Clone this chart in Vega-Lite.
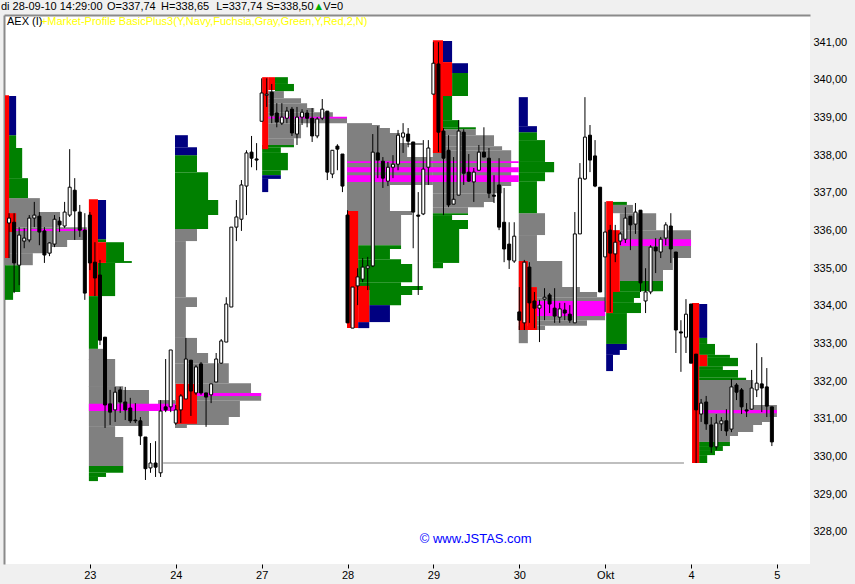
{
"$schema": "https://vega.github.io/schema/vega-lite/v6.json",
"autosize": "none",
"width": 806,
"height": 549,
"padding": {"left": 4, "top": 15, "right": 45, "bottom": 20},
"background": "#f0f0f0",
"config": {"view": {"fill": "white", "stroke": null}, "font": "Liberation Sans"},
"datasets": {
"profile": [
{"a":1.0,"b":7.1,"lo":336.49,"hi":336.86,"z":"va"},
{"a":1.0,"b":11.1,"lo":336.09,"hi":336.49,"z":"va"},
{"a":1.0,"b":16.4,"lo":335.75,"hi":336.09,"z":"va"},
{"a":1.0,"b":12.5,"lo":335.56,"hi":335.75,"z":"va"},
{"a":1.0,"b":9.5,"lo":335.40,"hi":335.56,"z":"va"},
{"a":0.2,"b":5.7,"lo":335.08,"hi":335.40,"z":"va"},
{"a":1.0,"b":2.4,"lo":338.19,"hi":338.53,"z":"out"},
{"a":1.0,"b":3.6,"lo":337.39,"hi":338.19,"z":"out"},
{"a":1.0,"b":4.75,"lo":336.86,"hi":337.39,"z":"out"},
{"a":0.2,"b":3.2,"lo":334.37,"hi":335.08,"z":"out"},
{"a":0.2,"b":1.8,"lo":334.16,"hi":334.37,"z":"out"},
{"a":1.0,"b":2.4,"lo":338.53,"hi":339.57,"z":"ext"},
{"a":0.2,"b":1.0,"lo":335.27,"hi":339.59,"z":"ib"},
{"a":1.0,"b":2.4,"lo":335.96,"hi":336.46,"z":"ib"},

{"a":16.8,"b":20.2,"lo":332.56,"hi":332.86,"z":"va"},
{"a":16.8,"b":22.0,"lo":331.85,"hi":332.59,"z":"va"},
{"a":16.8,"b":23.6,"lo":331.77,"hi":331.87,"z":"va"},
{"a":16.8,"b":28.7,"lo":330.81,"hi":331.77,"z":"va"},
{"a":16.8,"b":22.0,"lo":330.52,"hi":330.81,"z":"va"},
{"a":16.8,"b":23.6,"lo":329.75,"hi":330.52,"z":"va"},
{"a":30.5,"b":33.9,"lo":331.21,"hi":331.50,"z":"va"},
{"a":18.6,"b":20.2,"lo":335.69,"hi":335.77,"z":"out"},
{"a":20.2,"b":23.75,"lo":335.16,"hi":335.69,"z":"out"},
{"a":20.2,"b":25.3,"lo":335.14,"hi":335.19,"z":"out"},
{"a":18.6,"b":22.0,"lo":334.26,"hi":335.14,"z":"out"},
{"a":16.8,"b":18.6,"lo":332.86,"hi":334.26,"z":"out"},
{"a":16.8,"b":23.6,"lo":329.57,"hi":329.75,"z":"out"},
{"a":16.8,"b":20.2,"lo":329.46,"hi":329.57,"z":"out"},
{"a":16.8,"b":18.6,"lo":329.35,"hi":329.46,"z":"out"},
{"a":18.6,"b":20.2,"lo":335.77,"hi":336.81,"z":"ext"},
{"a":16.8,"b":18.6,"lo":334.26,"hi":336.83,"z":"ib"},
{"a":18.6,"b":20.2,"lo":335.14,"hi":335.69,"z":"ib"},

{"a":33.85,"b":38.2,"lo":335.72,"hi":336.04,"z":"va"},
{"a":33.85,"b":36.0,"lo":334.23,"hi":335.72,"z":"va"},
{"a":33.85,"b":38.2,"lo":333.97,"hi":334.23,"z":"va"},
{"a":33.85,"b":36.0,"lo":333.15,"hi":333.97,"z":"va"},
{"a":33.85,"b":38.2,"lo":332.75,"hi":333.15,"z":"va"},
{"a":33.85,"b":40.4,"lo":332.48,"hi":332.75,"z":"va"},
{"a":33.85,"b":44.5,"lo":331.95,"hi":332.48,"z":"va"},
{"a":33.85,"b":48.9,"lo":331.69,"hi":331.95,"z":"va"},
{"a":33.85,"b":50.9,"lo":331.48,"hi":331.69,"z":"va"},
{"a":33.85,"b":46.7,"lo":331.05,"hi":331.48,"z":"va"},
{"a":33.85,"b":44.5,"lo":330.84,"hi":331.05,"z":"va"},
{"a":33.85,"b":36.2,"lo":330.76,"hi":330.84,"z":"va"},
{"a":33.85,"b":38.2,"lo":337.55,"hi":338.00,"z":"out"},
{"a":33.85,"b":40.4,"lo":336.81,"hi":337.55,"z":"out"},
{"a":33.85,"b":42.4,"lo":336.41,"hi":336.81,"z":"out"},
{"a":33.85,"b":40.4,"lo":336.04,"hi":336.41,"z":"out"},
{"a":33.85,"b":36.4,"lo":338.21,"hi":338.53,"z":"ext"},
{"a":33.85,"b":38.2,"lo":338.00,"hi":338.21,"z":"ext"},
{"a":34.05,"b":38.2,"lo":330.87,"hi":331.93,"z":"ib"},

{"a":52.3,"b":55.4,"lo":339.51,"hi":339.70,"z":"va"},
{"a":52.3,"b":58.8,"lo":339.38,"hi":339.51,"z":"va"},
{"a":52.3,"b":60.0,"lo":339.25,"hi":339.38,"z":"va"},
{"a":52.3,"b":61.4,"lo":339.14,"hi":339.25,"z":"va"},
{"a":52.3,"b":65.1,"lo":339.01,"hi":339.14,"z":"va"},
{"a":52.3,"b":67.9,"lo":338.85,"hi":339.01,"z":"va"},
{"a":52.3,"b":58.8,"lo":338.45,"hi":338.85,"z":"va"},
{"a":52.3,"b":57.4,"lo":338.27,"hi":338.45,"z":"va"},
{"a":53.65,"b":56.2,"lo":339.89,"hi":340.07,"z":"out"},
{"a":53.65,"b":57.4,"lo":339.70,"hi":339.89,"z":"out"},
{"a":51.1,"b":57.4,"lo":338.21,"hi":338.27,"z":"out"},
{"a":51.1,"b":54.8,"lo":338.06,"hi":338.21,"z":"out"},
{"a":51.1,"b":56.2,"lo":337.60,"hi":338.06,"z":"out"},
{"a":51.1,"b":54.8,"lo":337.47,"hi":337.60,"z":"out"},
{"a":51.1,"b":54.8,"lo":337.37,"hi":337.47,"z":"ext"},
{"a":51.1,"b":52.3,"lo":337.02,"hi":337.37,"z":"ext"},
{"a":51.1,"b":52.3,"lo":338.16,"hi":340.07,"z":"ib"},
{"a":52.3,"b":53.65,"lo":339.73,"hi":340.07,"z":"ib"},

{"a":67.9,"b":72.85,"lo":338.80,"hi":338.85,"z":"va"},
{"a":67.9,"b":74.4,"lo":338.72,"hi":338.80,"z":"va"},
{"a":67.9,"b":76.4,"lo":338.59,"hi":338.72,"z":"va"},
{"a":67.9,"b":78.4,"lo":338.32,"hi":338.59,"z":"va"},
{"a":67.9,"b":82.9,"lo":338.27,"hi":338.32,"z":"va"},
{"a":67.9,"b":79.8,"lo":337.95,"hi":338.27,"z":"va"},
{"a":67.9,"b":84.9,"lo":337.21,"hi":337.95,"z":"va"},
{"a":67.9,"b":76.4,"lo":336.52,"hi":337.21,"z":"va"},
{"a":67.9,"b":80.8,"lo":336.41,"hi":336.52,"z":"va"},
{"a":67.9,"b":78.6,"lo":335.61,"hi":336.41,"z":"va"},
{"a":70.1,"b":78.6,"lo":335.51,"hi":335.61,"z":"out"},
{"a":70.1,"b":76.4,"lo":335.24,"hi":335.51,"z":"out"},
{"a":70.1,"b":78.6,"lo":335.11,"hi":335.24,"z":"out"},
{"a":70.1,"b":80.8,"lo":334.63,"hi":335.11,"z":"out"},
{"a":70.1,"b":78.6,"lo":334.53,"hi":334.63,"z":"out"},
{"a":70.1,"b":82.9,"lo":334.42,"hi":334.53,"z":"out"},
{"a":72.3,"b":80.8,"lo":334.29,"hi":334.42,"z":"out"},
{"a":72.3,"b":78.6,"lo":334.02,"hi":334.29,"z":"out"},
{"a":72.3,"b":76.4,"lo":333.57,"hi":334.02,"z":"ext"},
{"a":70.1,"b":72.3,"lo":333.41,"hi":333.57,"z":"ext"},
{"a":67.9,"b":70.1,"lo":333.41,"hi":336.52,"z":"ib"},
{"a":70.1,"b":72.3,"lo":333.57,"hi":334.53,"z":"ib"},

{"a":86.9,"b":93.4,"lo":338.53,"hi":338.69,"z":"va"},
{"a":86.9,"b":97.0,"lo":338.24,"hi":338.53,"z":"va"},
{"a":86.9,"b":98.6,"lo":338.13,"hi":338.24,"z":"va"},
{"a":84.9,"b":100.4,"lo":337.18,"hi":338.13,"z":"va"},
{"a":84.9,"b":98.6,"lo":336.99,"hi":337.18,"z":"va"},
{"a":84.9,"b":97.0,"lo":336.76,"hi":336.99,"z":"va"},
{"a":84.9,"b":95.0,"lo":336.62,"hi":336.76,"z":"va"},
{"a":84.9,"b":91.85,"lo":336.46,"hi":336.62,"z":"va"},
{"a":88.7,"b":91.85,"lo":339.57,"hi":340.18,"z":"out"},
{"a":86.9,"b":88.7,"lo":338.93,"hi":339.57,"z":"out"},
{"a":86.9,"b":90.1,"lo":338.74,"hi":338.93,"z":"out"},
{"a":86.9,"b":93.4,"lo":338.69,"hi":338.74,"z":"out"},
{"a":84.9,"b":91.85,"lo":336.41,"hi":336.46,"z":"out"},
{"a":84.9,"b":88.7,"lo":336.28,"hi":336.41,"z":"out"},
{"a":84.9,"b":91.85,"lo":336.04,"hi":336.28,"z":"out"},
{"a":84.9,"b":90.1,"lo":335.14,"hi":336.04,"z":"out"},
{"a":84.9,"b":86.9,"lo":335.00,"hi":335.14,"z":"out"},
{"a":86.9,"b":88.7,"lo":340.47,"hi":341.03,"z":"ext"},
{"a":88.7,"b":91.85,"lo":340.18,"hi":340.44,"z":"ext"},
{"a":84.9,"b":86.9,"lo":338.06,"hi":341.05,"z":"ib"},
{"a":86.9,"b":88.7,"lo":339.57,"hi":340.47,"z":"ib"},

{"a":101.9,"b":107.1,"lo":335.88,"hi":336.46,"z":"va"},
{"a":101.9,"b":105.5,"lo":335.19,"hi":335.88,"z":"va"},
{"a":101.9,"b":110.5,"lo":334.50,"hi":335.19,"z":"va"},
{"a":105.5,"b":114.0,"lo":334.37,"hi":334.50,"z":"va"},
{"a":105.5,"b":117.4,"lo":334.23,"hi":334.37,"z":"va"},
{"a":105.5,"b":119.0,"lo":333.62,"hi":334.23,"z":"va"},
{"a":105.5,"b":115.4,"lo":333.47,"hi":333.62,"z":"va"},
{"a":101.9,"b":107.1,"lo":333.36,"hi":333.47,"z":"va"},
{"a":101.9,"b":103.7,"lo":333.01,"hi":333.36,"z":"va"},
{"a":101.9,"b":105.5,"lo":338.40,"hi":338.61,"z":"out"},
{"a":101.9,"b":107.1,"lo":337.82,"hi":338.40,"z":"out"},
{"a":101.9,"b":108.9,"lo":337.55,"hi":337.82,"z":"out"},
{"a":101.9,"b":107.1,"lo":337.31,"hi":337.55,"z":"out"},
{"a":101.9,"b":105.5,"lo":336.46,"hi":337.31,"z":"out"},
{"a":101.9,"b":103.7,"lo":338.77,"hi":339.54,"z":"ext"},
{"a":101.9,"b":105.5,"lo":338.61,"hi":338.77,"z":"ext"},
{"a":101.9,"b":103.7,"lo":333.36,"hi":335.19,"z":"ib"},
{"a":103.7,"b":105.5,"lo":333.36,"hi":334.50,"z":"ib"},

{"a":120.55,"b":124.5,"lo":336.46,"hi":336.68,"z":"va"},
{"a":121.9,"b":129.1,"lo":336.01,"hi":336.46,"z":"va"},
{"a":121.9,"b":136.0,"lo":335.27,"hi":336.01,"z":"va"},
{"a":121.9,"b":132.4,"lo":334.95,"hi":335.27,"z":"va"},
{"a":121.9,"b":130.45,"lo":334.66,"hi":334.95,"z":"va"},
{"a":120.55,"b":123.3,"lo":336.68,"hi":336.76,"z":"out"},
{"a":121.9,"b":130.45,"lo":334.39,"hi":334.66,"z":"out"},
{"a":120.55,"b":125.9,"lo":334.21,"hi":334.39,"z":"out"},
{"a":120.55,"b":124.7,"lo":334.08,"hi":334.21,"z":"out"},
{"a":120.55,"b":126.1,"lo":333.81,"hi":334.08,"z":"out"},
{"a":119.2,"b":123.3,"lo":332.99,"hi":333.81,"z":"out"},
{"a":119.2,"b":123.3,"lo":332.83,"hi":332.99,"z":"ext"},
{"a":119.2,"b":121.9,"lo":332.70,"hi":332.83,"z":"ext"},
{"a":119.2,"b":120.55,"lo":332.27,"hi":332.70,"z":"ext"},
{"a":119.2,"b":120.55,"lo":333.81,"hi":336.78,"z":"ib"},
{"a":120.55,"b":121.9,"lo":334.37,"hi":336.01,"z":"ib"},

{"a":137.6,"b":148.3,"lo":331.37,"hi":332.03,"z":"va"},
{"a":137.6,"b":153.0,"lo":331.05,"hi":331.37,"z":"va"},
{"a":137.6,"b":151.6,"lo":330.92,"hi":331.05,"z":"va"},
{"a":137.6,"b":150.05,"lo":330.84,"hi":330.92,"z":"va"},
{"a":137.6,"b":148.3,"lo":330.65,"hi":330.84,"z":"va"},
{"a":137.6,"b":145.3,"lo":330.55,"hi":330.65,"z":"va"},
{"a":137.6,"b":143.7,"lo":330.39,"hi":330.55,"z":"va"},
{"a":137.6,"b":139.2,"lo":332.99,"hi":333.15,"z":"out"},
{"a":137.6,"b":140.75,"lo":332.70,"hi":332.99,"z":"out"},
{"a":139.2,"b":143.7,"lo":332.62,"hi":332.70,"z":"out"},
{"a":139.2,"b":145.3,"lo":332.40,"hi":332.62,"z":"out"},
{"a":137.6,"b":142.3,"lo":332.30,"hi":332.40,"z":"out"},
{"a":137.6,"b":145.3,"lo":332.09,"hi":332.30,"z":"out"},
{"a":137.6,"b":146.9,"lo":332.03,"hi":332.09,"z":"out"},
{"a":137.6,"b":143.7,"lo":330.28,"hi":330.39,"z":"out"},
{"a":137.6,"b":142.3,"lo":330.15,"hi":330.28,"z":"out"},
{"a":137.6,"b":140.75,"lo":330.04,"hi":330.15,"z":"out"},
{"a":137.6,"b":139.2,"lo":329.83,"hi":330.04,"z":"out"},
{"a":137.6,"b":139.2,"lo":333.15,"hi":334.05,"z":"ext"},
{"a":136.2,"b":137.6,"lo":329.83,"hi":334.08,"z":"ib"},
{"a":137.6,"b":139.2,"lo":332.40,"hi":332.70,"z":"ib"},

{"a":2.2,"b":16.4,"lo":335.99,"hi":336.04,"z":"poc"},
{"a":16.8,"b":33.9,"lo":331.21,"hi":331.40,"z":"poc"},
{"a":38.2,"b":50.9,"lo":331.61,"hi":331.69,"z":"poc"},
{"a":52.3,"b":67.9,"lo":338.97,"hi":339.02,"z":"poc"},
{"a":67.9,"b":101.9,"lo":337.79,"hi":337.84,"z":"poc"},
{"a":67.9,"b":101.9,"lo":337.55,"hi":337.68,"z":"poc"},
{"a":67.9,"b":101.9,"lo":337.29,"hi":337.47,"z":"poc"},
{"a":105.5,"b":119.0,"lo":333.73,"hi":334.13,"z":"poc"},
{"a":121.9,"b":136.0,"lo":335.59,"hi":335.77,"z":"poc"},
{"a":137.6,"b":153.0,"lo":331.15,"hi":331.24,"z":"poc"}
],
"candles": [
{"t":1,"o":336.20,"h":336.46,"l":335.27,"c":336.33},
{"t":2,"o":336.22,"h":336.46,"l":334.34,"c":335.14},
{"t":3,"o":335.08,"h":336.09,"l":334.55,"c":335.88},
{"t":4,"o":335.72,"h":336.07,"l":335.53,"c":335.80},
{"t":5,"o":335.75,"h":336.41,"l":335.69,"c":336.33},
{"t":6,"o":336.33,"h":336.76,"l":336.09,"c":336.41},
{"t":7,"o":336.38,"h":336.49,"l":335.61,"c":335.96},
{"t":8,"o":335.99,"h":336.09,"l":335.14,"c":335.35},
{"t":9,"o":335.40,"h":335.69,"l":335.32,"c":335.67},
{"t":10,"o":335.64,"h":336.41,"l":335.56,"c":336.30},
{"t":11,"o":336.25,"h":336.36,"l":335.96,"c":336.15},
{"t":12,"o":336.12,"h":336.76,"l":336.07,"c":336.49},
{"t":13,"o":336.41,"h":338.16,"l":336.36,"c":337.15},
{"t":14,"o":337.07,"h":337.39,"l":335.75,"c":336.52},
{"t":15,"o":336.49,"h":336.68,"l":335.83,"c":336.01},
{"t":16,"o":336.01,"h":336.46,"l":334.16,"c":334.34},
{"t":17,"o":336.41,"h":336.49,"l":334.95,"c":335.14},
{"t":18,"o":335.16,"h":335.69,"l":334.26,"c":334.74},
{"t":19,"o":334.82,"h":335.22,"l":332.96,"c":333.09},
{"t":20,"o":333.17,"h":333.17,"l":330.76,"c":331.37},
{"t":21,"o":331.40,"h":331.77,"l":330.84,"c":331.18},
{"t":22,"o":331.24,"h":331.85,"l":330.92,"c":331.71},
{"t":23,"o":331.77,"h":331.85,"l":331.16,"c":331.45},
{"t":24,"o":331.45,"h":331.85,"l":330.97,"c":331.24},
{"t":25,"o":331.29,"h":331.56,"l":330.89,"c":330.95},
{"t":26,"o":330.97,"h":331.42,"l":330.89,"c":330.95},
{"t":27,"o":330.95,"h":331.05,"l":330.31,"c":330.55},
{"t":28,"o":330.52,"h":330.52,"l":329.38,"c":329.68},
{"t":29,"o":329.70,"h":330.36,"l":329.57,"c":329.83},
{"t":30,"o":329.83,"h":330.41,"l":329.46,"c":329.72},
{"t":31,"o":329.57,"h":331.50,"l":329.46,"c":331.21},
{"t":32,"o":331.32,"h":332.59,"l":331.18,"c":331.24},
{"t":33,"o":331.32,"h":332.83,"l":331.18,"c":332.83},
{"t":34,"o":330.89,"h":331.37,"l":330.84,"c":331.24},
{"t":35,"o":331.24,"h":331.66,"l":330.89,"c":331.61},
{"t":36,"o":331.53,"h":333.15,"l":331.53,"c":332.59},
{"t":37,"o":332.56,"h":332.56,"l":331.08,"c":331.74},
{"t":38,"o":331.69,"h":332.43,"l":331.64,"c":332.38},
{"t":39,"o":332.46,"h":332.51,"l":331.64,"c":331.69},
{"t":40,"o":331.69,"h":331.69,"l":330.79,"c":331.58},
{"t":41,"o":331.64,"h":331.93,"l":331.42,"c":331.93},
{"t":42,"o":331.98,"h":332.75,"l":331.98,"c":332.59},
{"t":43,"o":332.48,"h":333.12,"l":332.46,"c":333.07},
{"t":44,"o":333.04,"h":334.23,"l":333.04,"c":334.05},
{"t":45,"o":333.97,"h":336.09,"l":333.97,"c":336.09},
{"t":46,"o":336.09,"h":336.81,"l":335.72,"c":336.36},
{"t":47,"o":336.30,"h":337.34,"l":335.99,"c":337.21},
{"t":48,"o":337.18,"h":338.13,"l":336.41,"c":338.06},
{"t":49,"o":338.08,"h":338.51,"l":337.68,"c":337.92},
{"t":50,"o":337.90,"h":338.32,"l":337.60,"c":337.87},
{"t":51,"o":338.90,"h":340.04,"l":338.90,"c":339.65},
{"t":52,"o":339.59,"h":340.04,"l":339.28,"c":339.62},
{"t":53,"o":339.67,"h":339.89,"l":338.85,"c":339.06},
{"t":54,"o":339.12,"h":339.38,"l":338.74,"c":338.88},
{"t":55,"o":338.85,"h":339.38,"l":338.80,"c":339.01},
{"t":56,"o":338.98,"h":339.28,"l":338.85,"c":339.17},
{"t":57,"o":339.22,"h":339.28,"l":338.51,"c":338.59},
{"t":58,"o":338.56,"h":339.28,"l":338.27,"c":339.01},
{"t":59,"o":339.01,"h":339.22,"l":338.80,"c":339.14},
{"t":60,"o":339.12,"h":339.20,"l":338.74,"c":338.98},
{"t":61,"o":338.98,"h":339.25,"l":338.35,"c":338.51},
{"t":62,"o":338.51,"h":339.01,"l":338.45,"c":338.96},
{"t":63,"o":338.98,"h":339.49,"l":338.93,"c":339.22},
{"t":64,"o":339.17,"h":339.17,"l":337.34,"c":337.55},
{"t":65,"o":337.50,"h":338.13,"l":337.39,"c":338.13},
{"t":66,"o":338.24,"h":338.29,"l":337.60,"c":338.16},
{"t":67,"o":338.03,"h":338.03,"l":337.02,"c":337.18},
{"t":68,"o":336.41,"h":336.54,"l":333.55,"c":333.55},
{"t":69,"o":333.41,"h":334.50,"l":333.41,"c":334.50},
{"t":70,"o":334.53,"h":335.00,"l":334.02,"c":334.77},
{"t":71,"o":334.71,"h":335.27,"l":334.63,"c":335.03},
{"t":72,"o":335.00,"h":335.30,"l":334.42,"c":335.06},
{"t":73,"o":335.06,"h":338.56,"l":335.03,"c":338.08},
{"t":74,"o":338.06,"h":338.77,"l":337.39,"c":337.87},
{"t":75,"o":337.84,"h":337.95,"l":337.13,"c":337.39},
{"t":76,"o":337.31,"h":337.82,"l":337.18,"c":337.68},
{"t":77,"o":337.68,"h":338.00,"l":337.39,"c":337.76},
{"t":78,"o":337.76,"h":338.67,"l":337.60,"c":338.53},
{"t":79,"o":338.48,"h":338.85,"l":338.06,"c":338.59},
{"t":80,"o":338.56,"h":338.72,"l":338.21,"c":338.37},
{"t":81,"o":338.35,"h":338.35,"l":335.53,"c":336.49},
{"t":82,"o":336.41,"h":337.02,"l":334.29,"c":336.38},
{"t":83,"o":336.44,"h":338.40,"l":336.41,"c":337.63},
{"t":84,"o":337.68,"h":338.40,"l":337.21,"c":338.19},
{"t":85,"o":339.62,"h":341.00,"l":339.62,"c":340.44},
{"t":86,"o":340.42,"h":341.00,"l":338.08,"c":338.61},
{"t":87,"o":338.64,"h":338.72,"l":336.41,"c":337.92},
{"t":88,"o":338.13,"h":338.53,"l":336.62,"c":336.68},
{"t":89,"o":336.70,"h":337.95,"l":336.70,"c":336.83},
{"t":90,"o":336.94,"h":338.93,"l":336.94,"c":338.64},
{"t":91,"o":338.61,"h":338.69,"l":337.21,"c":337.52},
{"t":92,"o":337.55,"h":338.03,"l":337.29,"c":337.31},
{"t":93,"o":337.29,"h":337.66,"l":336.76,"c":337.55},
{"t":94,"o":337.60,"h":338.27,"l":337.60,"c":338.08},
{"t":95,"o":338.08,"h":338.74,"l":337.95,"c":337.95},
{"t":96,"o":337.92,"h":338.19,"l":336.86,"c":336.99},
{"t":97,"o":336.94,"h":337.47,"l":336.73,"c":336.91},
{"t":98,"o":337.21,"h":337.92,"l":336.01,"c":336.09},
{"t":99,"o":336.22,"h":337.13,"l":335.16,"c":335.51},
{"t":100,"o":335.64,"h":336.22,"l":334.98,"c":335.22},
{"t":101,"o":335.19,"h":336.22,"l":335.14,"c":335.85},
{"t":102,"o":333.84,"h":334.50,"l":333.36,"c":333.62},
{"t":103,"o":333.55,"h":335.22,"l":333.36,"c":335.16},
{"t":104,"o":335.03,"h":335.16,"l":333.55,"c":334.08},
{"t":105,"o":334.13,"h":334.37,"l":333.41,"c":333.94},
{"t":106,"o":333.94,"h":334.16,"l":333.04,"c":334.02},
{"t":107,"o":334.18,"h":334.47,"l":333.62,"c":334.23},
{"t":108,"o":334.29,"h":334.34,"l":333.81,"c":334.05},
{"t":109,"o":333.94,"h":334.47,"l":333.55,"c":333.73},
{"t":110,"o":333.70,"h":334.08,"l":333.55,"c":333.92},
{"t":111,"o":333.89,"h":334.08,"l":333.62,"c":333.81},
{"t":112,"o":333.78,"h":334.02,"l":333.55,"c":333.62},
{"t":113,"o":333.55,"h":336.49,"l":333.55,"c":335.91},
{"t":114,"o":335.91,"h":337.79,"l":335.91,"c":337.39},
{"t":115,"o":337.37,"h":339.54,"l":337.34,"c":338.48},
{"t":116,"o":338.53,"h":338.80,"l":337.55,"c":337.87},
{"t":117,"o":337.98,"h":338.40,"l":337.15,"c":337.18},
{"t":118,"o":337.15,"h":337.15,"l":334.37,"c":334.37},
{"t":119,"o":335.30,"h":336.76,"l":333.84,"c":335.96},
{"t":120,"o":336.01,"h":336.15,"l":333.84,"c":335.40},
{"t":121,"o":335.38,"h":336.15,"l":335.16,"c":335.69},
{"t":122,"o":335.72,"h":335.96,"l":335.61,"c":335.91},
{"t":123,"o":335.77,"h":336.62,"l":335.67,"c":336.33},
{"t":124,"o":336.38,"h":336.38,"l":335.48,"c":336.15},
{"t":125,"o":336.17,"h":336.73,"l":335.91,"c":336.49},
{"t":126,"o":336.54,"h":336.54,"l":334.37,"c":334.61},
{"t":127,"o":334.13,"h":335.00,"l":333.81,"c":334.37},
{"t":128,"o":334.37,"h":335.61,"l":334.31,"c":335.56},
{"t":129,"o":335.56,"h":335.80,"l":334.87,"c":335.46},
{"t":130,"o":335.43,"h":335.83,"l":335.27,"c":335.77},
{"t":131,"o":335.80,"h":336.22,"l":335.61,"c":336.15},
{"t":132,"o":336.12,"h":336.46,"l":335.14,"c":335.51},
{"t":133,"o":335.43,"h":335.43,"l":332.75,"c":333.36},
{"t":134,"o":333.31,"h":333.62,"l":332.25,"c":333.28},
{"t":135,"o":333.17,"h":334.18,"l":332.75,"c":333.78},
{"t":136,"o":334.05,"h":334.05,"l":332.48,"c":332.48},
{"t":137,"o":332.72,"h":332.72,"l":329.83,"c":331.24},
{"t":138,"o":331.13,"h":331.53,"l":330.92,"c":331.42},
{"t":139,"o":331.45,"h":331.61,"l":330.71,"c":330.87},
{"t":140,"o":330.84,"h":331.05,"l":330.10,"c":330.26},
{"t":141,"o":330.26,"h":331.13,"l":330.18,"c":330.89},
{"t":142,"o":330.87,"h":331.05,"l":330.68,"c":330.95},
{"t":143,"o":330.95,"h":331.26,"l":330.55,"c":330.68},
{"t":144,"o":330.73,"h":332.06,"l":330.65,"c":331.85},
{"t":145,"o":331.90,"h":331.95,"l":331.50,"c":331.71},
{"t":146,"o":331.77,"h":331.82,"l":331.13,"c":331.32},
{"t":147,"o":331.24,"h":331.42,"l":331.05,"c":331.21},
{"t":148,"o":331.26,"h":332.30,"l":331.24,"c":331.82},
{"t":149,"o":331.77,"h":333.01,"l":331.58,"c":331.95},
{"t":150,"o":331.93,"h":332.64,"l":331.18,"c":331.82},
{"t":151,"o":331.85,"h":332.35,"l":331.05,"c":331.34},
{"t":152,"o":331.32,"h":331.32,"l":330.28,"c":330.39}
],
"naked": [{"a":31.5,"b":134.6,"p":329.83}],
"hdr": [
{"txt":"di 28-09-10 14:29:00","t":-0.6,"p":341.93,"k":"h"},
{"txt":"O=337,74","t":20.4,"p":341.93,"k":"h"},
{"txt":"H=338,65","t":31.1,"p":341.93,"k":"h"},
{"txt":"L=337,74","t":42.0,"p":341.93,"k":"h"},
{"txt":"S=338,50","t":51.9,"p":341.93,"k":"h"},
{"txt":"▲","t":61.2,"p":341.93,"k":"up"},
{"txt":"V=0","t":63.2,"p":341.93,"k":"h"},
{"txt":"AEX (I)","t":0.6,"p":341.53,"k":"h"},
{"txt":"+Market-Profile BasicPlus3(Y,Navy,Fuchsia,Gray,Green,Y,Red,2,N)","t":7.3,"p":341.53,"k":"ind"}
],
"web": [{"txt":"© www.JSTAS.com","t":82.3,"p":327.81}]
},
"resolve": {"axis": {"x": "independent", "y": "independent"}},
"layer": [
{
"data": {"name": "profile"},
"mark": {"type": "rect"},
"encoding": {
"x": {"field": "a", "type": "quantitative",
"scale": {"domain": [0, 159.55], "nice": false, "zero": false, "padding": 0},
"axis": {"orient": "bottom", "values": [17,34,51,68,85,102,119,136,153],
"labelExpr": "['23','24','27','28','29','30','Okt','4','5'][round(datum.value/17)-1]",
"grid": false, "domain": false, "ticks": true, "tickSize": 4, "tickColor": "#000000",
"labelColor": "#000000", "labelFontSize": 11, "labelPadding": 1, "title": null}},
"x2": {"field": "b"},
"y": {"field": "lo", "type": "quantitative",
"scale": {"domain": [327.15, 341.72], "nice": false, "zero": false, "padding": 0},
"axis": {"orient": "right", "values": [328,329,330,331,332,333,334,335,336,337,338,339,340,341],
"labelExpr": "replace(format(datum.value, '.2f'), '.', ',')",
"grid": false, "domain": false, "ticks": false, "labelPadding": 3,
"labelFontSize": 11, "labelColor": "#000000", "title": null}},
"y2": {"field": "hi"},
"color": {"field": "z", "type": "nominal",
"scale": {"domain": ["va","out","ext","ib","poc"], "range": ["#808080","#008000","#000080","#ff0000","#ff00ff"]},
"legend": null}
}
},
{
"data": {"name": "naked"},
"mark": {"type": "rule", "color": "#808080", "strokeWidth": 1.2},
"encoding": {
"x": {"field": "a", "type": "quantitative",
"axis": {"orient": "top", "labels": false, "ticks": false, "grid": false, "domain": true,
"domainColor": "#8a8a8a", "domainWidth": 2, "title": null}},
"x2": {"field": "b"},
"y": {"field": "p", "type": "quantitative",
"axis": {"orient": "left", "labels": false, "ticks": false, "grid": false, "domain": true,
"domainColor": "#8a8a8a", "domainWidth": 2, "title": null}}
}
},
{
"data": {"name": "candles"},
"mark": {"type": "rule", "color": "#000000", "strokeWidth": 1},
"encoding": {
"x": {"field": "t", "type": "quantitative", "axis": null},
"y": {"field": "l", "type": "quantitative", "axis": null},
"y2": {"field": "h"}
}
},
{
"data": {"name": "candles"},
"mark": {"type": "bar", "size": 3, "stroke": "#000000", "strokeWidth": 1},
"encoding": {
"x": {"field": "t", "type": "quantitative", "axis": null},
"y": {"field": "o", "type": "quantitative", "axis": null},
"y2": {"field": "c"},
"fill": {"condition": {"test": "datum.c > datum.o", "value": "#ffffff"}, "value": "#000000"}
}
},
{
"data": {"name": "hdr"},
"mark": {"type": "text", "align": "left", "baseline": "middle", "fontSize": 11, "font": "Liberation Sans"},
"encoding": {
"x": {"field": "t", "type": "quantitative", "axis": null},
"y": {"field": "p", "type": "quantitative", "axis": null},
"text": {"field": "txt"},
"color": {"condition": [{"test": "datum.k == 'up'", "value": "#00b000"}, {"test": "datum.k == 'ind'", "value": "#ffff00"}], "value": "#000000"}
}
},
{
"data": {"name": "web"},
"mark": {"type": "text", "align": "left", "baseline": "middle", "fontSize": 13, "font": "Liberation Sans", "color": "#0000ff"},
"encoding": {
"x": {"field": "t", "type": "quantitative", "axis": null},
"y": {"field": "p", "type": "quantitative", "axis": null},
"text": {"field": "txt"}
}
}
]
}
